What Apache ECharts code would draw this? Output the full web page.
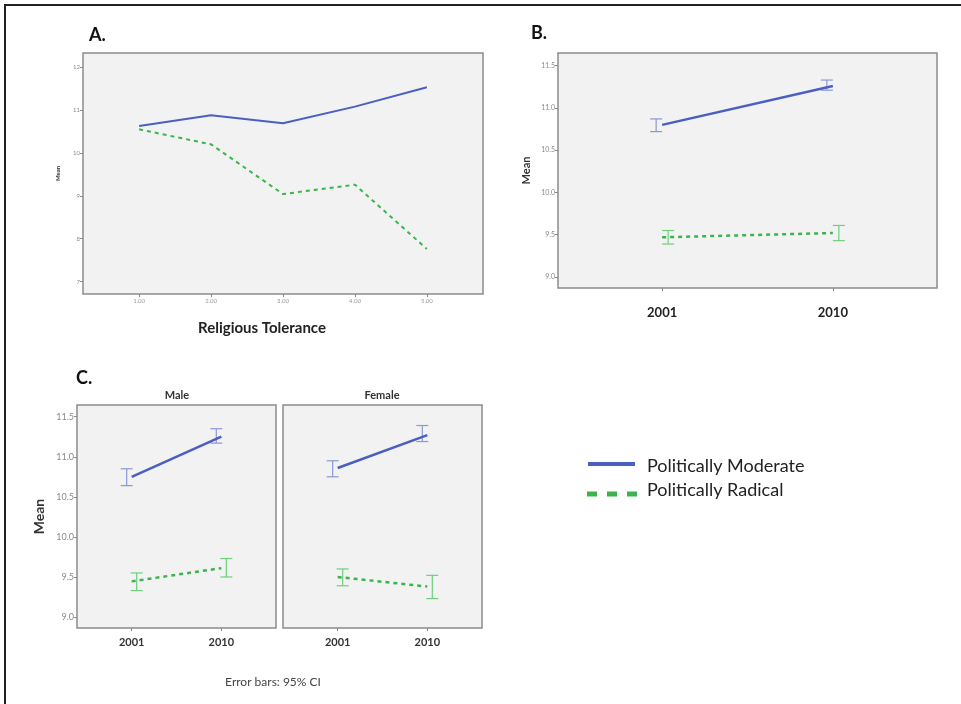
<!DOCTYPE html>
<html><head><meta charset="utf-8">
<script src="https://cdn.jsdelivr.net/npm/echarts@6/dist/echarts.min.js"></script>
<style>html,body{margin:0;padding:0;background:#fff}#c{width:961px;height:704px}</style>
</head><body><div id="c"></div>
<script>
// ---------- Data ----------
const toleranceLevels = [1, 2, 3, 4, 5];
const toleranceLabels = ['1.00', '2.00', '3.00', '4.00', '5.00'];
const aModerate = [10.63, 10.88, 10.69, 11.08, 11.53];
const aRadical  = [10.55, 10.20, 9.04, 9.26, 7.76];
const aYTicks = [7, 8, 9, 10, 11, 12];

const years = ['2001', '2010'];
const yearPos = [0, 1];
const bModerateMean = [10.80, 11.26];
const bModerateLow  = [10.72, 11.21];
const bModerateHigh = [10.87, 11.33];
const bRadicalMean  = [9.47, 9.52];
const bRadicalLow   = [9.39, 9.43];
const bRadicalHigh  = [9.55, 9.61];

const maleModerateMean = [10.75, 11.25];
const maleModerateLow  = [10.64, 11.17];
const maleModerateHigh = [10.85, 11.35];
const maleRadicalMean  = [9.445, 9.61];
const maleRadicalLow   = [9.33, 9.50];
const maleRadicalHigh  = [9.55, 9.73];

const femaleModerateMean = [10.86, 11.27];
const femaleModerateLow  = [10.75, 11.19];
const femaleModerateHigh = [10.95, 11.39];
const femaleRadicalMean  = [9.50, 9.38];
const femaleRadicalLow   = [9.39, 9.23];
const femaleRadicalHigh  = [9.60, 9.52];

const yearYTicks = [9.0, 9.5, 10.0, 10.5, 11.0, 11.5];

// ---------- Styles ----------
const BLUE = '#4a5fc1', GREEN = '#3cb44b';
const BLUE_EB = '#8a98d6', GREEN_EB = '#6fcf7c';
const FONT = 'Lato, "Open Sans", sans-serif';

function pts(xs, ys) { return xs.map((x, i) => [x, ys[i]]); }
function ebData(xs, lo, hi) { return xs.map((x, i) => [x, lo[i], hi[i]]); }

function errSeries(idx, data, color, off) {
  return {
    type: 'custom', xAxisIndex: idx, yAxisIndex: idx, data: data, z: 3,
    renderItem: function (params, api) {
      const x = api.value(0);
      const top = api.coord([x, api.value(2)]);
      const bot = api.coord([x, api.value(1)]);
      const cx = top[0] + off, cap = 6;
      const st = { stroke: color, lineWidth: 1.2 };
      return { type: 'group', children: [
        { type: 'line', shape: { x1: cx, y1: top[1], x2: cx, y2: bot[1] }, style: st },
        { type: 'line', shape: { x1: cx - cap, y1: top[1], x2: cx + cap, y2: top[1] }, style: st },
        { type: 'line', shape: { x1: cx - cap, y1: bot[1], x2: cx + cap, y2: bot[1] }, style: st }
      ] };
    }
  };
}
function lineSeries(idx, data, color, dashed, w) {
  return {
    type: 'line', xAxisIndex: idx, yAxisIndex: idx, data: data, symbol: 'none', z: 4,
    lineStyle: { color: color, width: w, type: dashed ? [4, 4] : 'solid' }
  };
}

const gridStyle = { show: true, backgroundColor: '#f2f2f2', borderColor: '#8c8c8c', borderWidth: 1.5 };

function xAxisCfg(idx, min, max, vals, labels, fs, bold, margin, color) {
  return {
    type: 'value', gridIndex: idx, min: min, max: max, position: 'bottom',
    axisLine: { show: false, onZero: false }, splitLine: { show: false },
    axisTick: { show: true, customValues: vals, length: 3, lineStyle: { color: '#888' } },
    axisLabel: { customValues: vals, formatter: v => labels[vals.indexOf(v)] || '',
      fontSize: fs, fontWeight: bold ? 'bold' : 'normal', color: color, margin: margin, fontFamily: FONT }
  };
}
function yAxisCfg(idx, min, max, vals, fmt, fs, showLabels, name, nameFs, nameGap) {
  return {
    type: 'value', gridIndex: idx, min: min, max: max, position: 'left',
    axisLine: { show: false, onZero: false }, splitLine: { show: false },
    axisTick: { show: showLabels, customValues: vals, length: 3, lineStyle: { color: '#888' } },
    axisLabel: { show: showLabels, customValues: vals, formatter: fmt, fontSize: fs, color: '#8a8a8a', margin: 3, fontFamily: FONT },
    name: name, nameLocation: 'middle', nameRotate: 90, nameGap: nameGap,
    nameTextStyle: { fontSize: nameFs, fontWeight: 'bold', color: '#333', fontFamily: FONT }
  };
}

const yFmt = v => v.toFixed(1);

const option = {
  animation: false,
  grid: [
    Object.assign({ left: 83, top: 53, width: 400, height: 241 }, gridStyle),
    Object.assign({ left: 558, top: 53, width: 379, height: 235 }, gridStyle),
    Object.assign({ left: 77, top: 405, width: 199, height: 223 }, gridStyle),
    Object.assign({ left: 283, top: 405, width: 199, height: 223 }, gridStyle)
  ],
  xAxis: [
    xAxisCfg(0, 0.22, 5.78, toleranceLevels, toleranceLabels, 6, false, 4, '#999'),
    xAxisCfg(1, -0.61, 1.61, yearPos, years, 13, true, 18, '#222'),
    xAxisCfg(2, -0.61, 1.61, yearPos, years, 11, true, 9, '#333'),
    xAxisCfg(3, -0.61, 1.61, yearPos, years, 11, true, 9, '#333')
  ],
  yAxis: [
    yAxisCfg(0, 6.71, 12.33, aYTicks, v => String(v), 6, true, 'Mean', 6, 22),
    yAxisCfg(1, 8.87, 11.65, yearYTicks, yFmt, 7, true, 'Mean', 11, 26),
    yAxisCfg(2, 8.863, 11.646, yearYTicks, yFmt, 9, true, 'Mean', 14, 31),
    yAxisCfg(3, 8.863, 11.646, yearYTicks, yFmt, 9, false, '', 14, 30)
  ],
  series: [
    lineSeries(0, pts(toleranceLevels, aModerate), BLUE, false, 2),
    lineSeries(0, pts(toleranceLevels, aRadical), GREEN, true, 2),

    errSeries(1, ebData(yearPos, bModerateLow, bModerateHigh), BLUE_EB, -6),
    errSeries(1, ebData(yearPos, bRadicalLow, bRadicalHigh), GREEN_EB, 6),
    lineSeries(1, pts(yearPos, bModerateMean), BLUE, false, 2.5),
    lineSeries(1, pts(yearPos, bRadicalMean), GREEN, true, 2.5),

    errSeries(2, ebData(yearPos, maleModerateLow, maleModerateHigh), BLUE_EB, -5),
    errSeries(2, ebData(yearPos, maleRadicalLow, maleRadicalHigh), GREEN_EB, 5),
    lineSeries(2, pts(yearPos, maleModerateMean), BLUE, false, 2.5),
    lineSeries(2, pts(yearPos, maleRadicalMean), GREEN, true, 2.5),

    errSeries(3, ebData(yearPos, femaleModerateLow, femaleModerateHigh), BLUE_EB, -5),
    errSeries(3, ebData(yearPos, femaleRadicalLow, femaleRadicalHigh), GREEN_EB, 5),
    lineSeries(3, pts(yearPos, femaleModerateMean), BLUE, false, 2.5),
    lineSeries(3, pts(yearPos, femaleRadicalMean), GREEN, true, 2.5)
  ],
  graphic: [
    // outer frame (top and left edges)
    { type: 'line', shape: { x1: 4, y1: 5, x2: 961, y2: 5 }, style: { stroke: '#222', lineWidth: 2 } },
    { type: 'line', shape: { x1: 5, y1: 4, x2: 5, y2: 704 }, style: { stroke: '#222', lineWidth: 2 } },
    // panel titles
    { type: 'text', x: 89, y: 35, style: { text: 'A.', font: 'bold 18px ' + FONT, fill: '#111', textVerticalAlign: 'middle' } },
    { type: 'text', x: 531, y: 33, style: { text: 'B.', font: 'bold 18px ' + FONT, fill: '#111', textVerticalAlign: 'middle' } },
    { type: 'text', x: 76, y: 378, style: { text: 'C.', font: 'bold 18px ' + FONT, fill: '#111', textVerticalAlign: 'middle' } },
    { type: 'text', x: 262, y: 328, style: { text: 'Religious Tolerance', font: 'bold 15px ' + FONT, fill: '#222', textAlign: 'center', textVerticalAlign: 'middle' } },
    { type: 'text', x: 177, y: 395, style: { text: 'Male', font: 'bold 11px ' + FONT, fill: '#333', textAlign: 'center', textVerticalAlign: 'middle' } },
    { type: 'text', x: 382, y: 395, style: { text: 'Female', font: 'bold 11px ' + FONT, fill: '#333', textAlign: 'center', textVerticalAlign: 'middle' } },
    { type: 'text', x: 273, y: 682, style: { text: 'Error bars: 95% CI', font: '12px ' + FONT, fill: '#444', textAlign: 'center', textVerticalAlign: 'middle' } },
    // legend
    { type: 'line', shape: { x1: 588, y1: 464, x2: 635, y2: 464 }, style: { stroke: BLUE, lineWidth: 4 } },
    { type: 'rect', shape: { x: 587, y: 491.5, width: 10, height: 5 }, style: { fill: GREEN } },
    { type: 'rect', shape: { x: 607, y: 491.5, width: 10, height: 5 }, style: { fill: GREEN } },
    { type: 'rect', shape: { x: 627, y: 491.5, width: 10, height: 5 }, style: { fill: GREEN } },
    { type: 'text', x: 647, y: 466, style: { text: 'Politically Moderate', font: '18px ' + FONT, fill: '#222', textVerticalAlign: 'middle' } },
    { type: 'text', x: 647, y: 490, style: { text: 'Politically Radical', font: '18px ' + FONT, fill: '#222', textVerticalAlign: 'middle' } }
  ]
};
echarts.init(document.getElementById('c')).setOption(option);
</script>
</body></html>
